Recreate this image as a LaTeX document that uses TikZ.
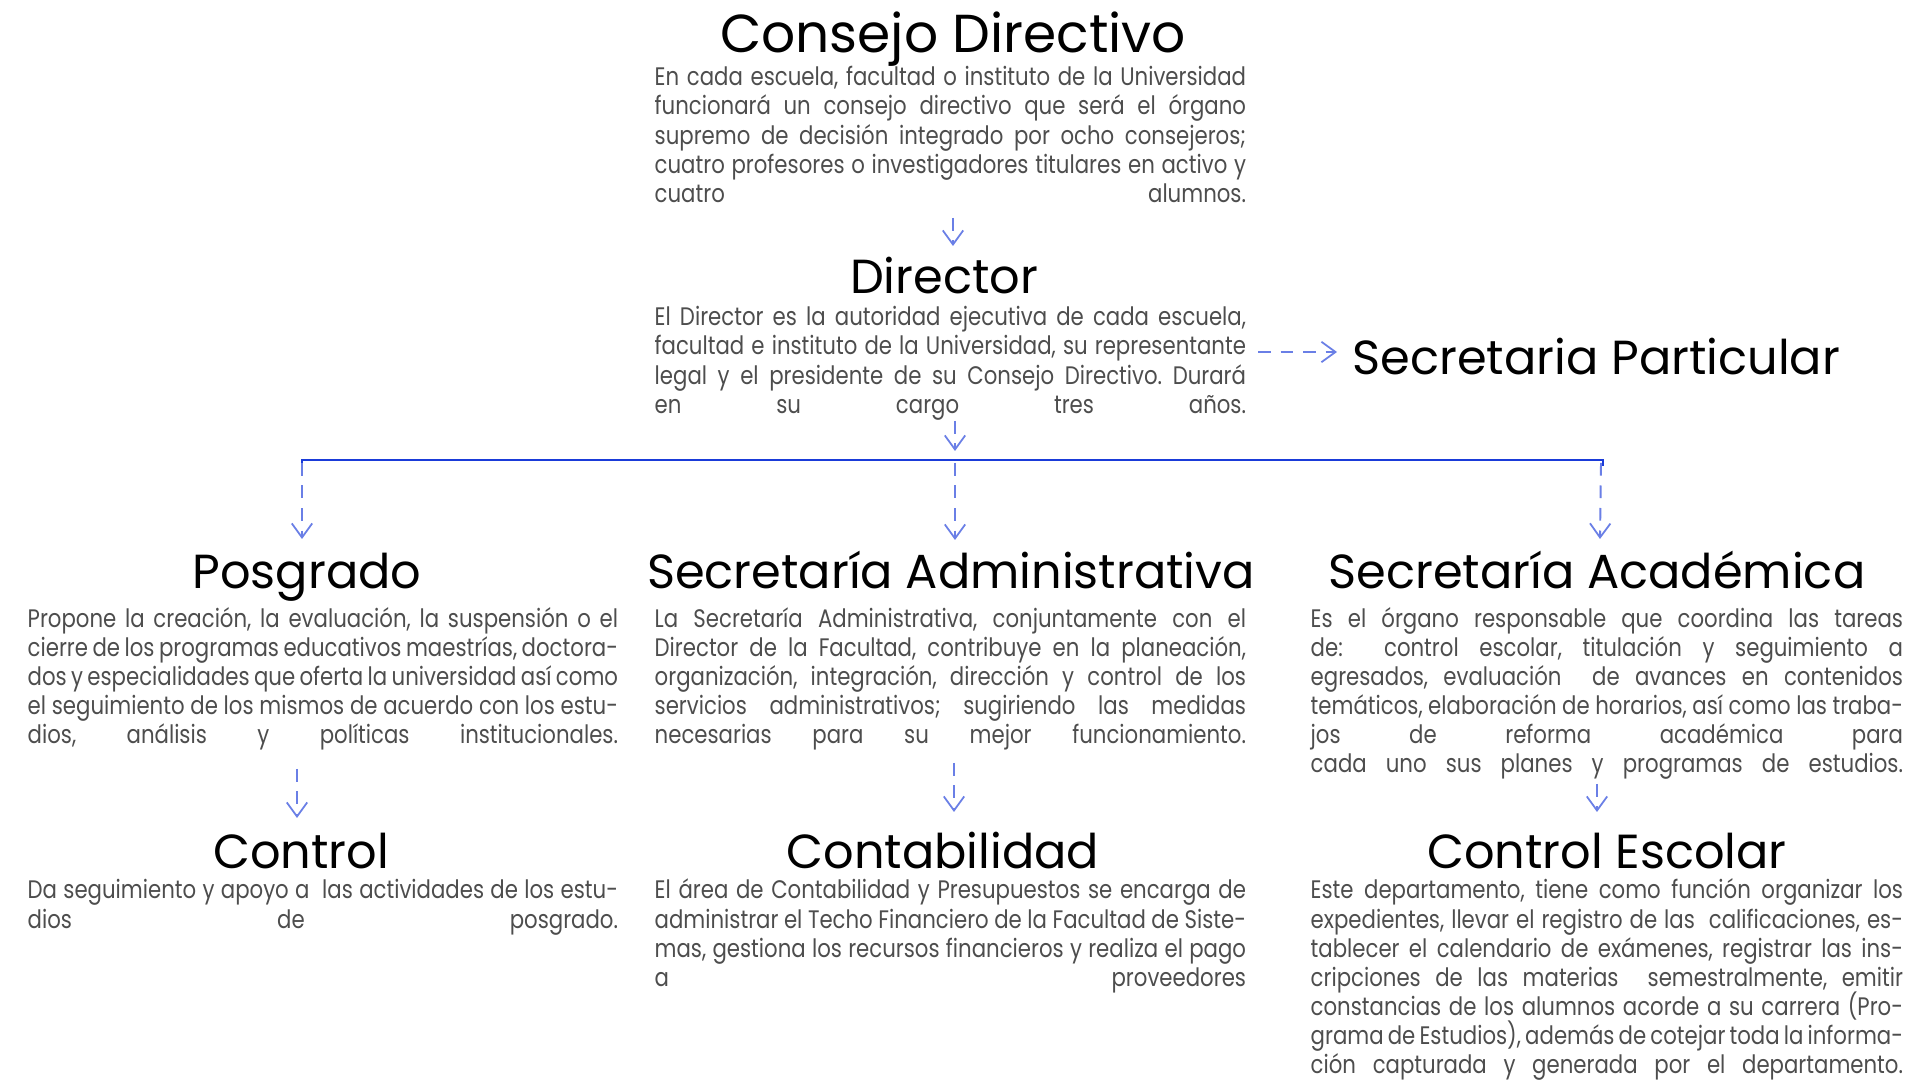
\documentclass[tikz,border=0pt]{standalone}
\usepackage{fontspec}
\setmainfont{Poppins}
\newfontfamily\titlef{Poppins}
\newfontfamily\bodyf[FakeStretch=0.84]{Poppins}
\usetikzlibrary{arrows.meta}
\definecolor{bodygray}{HTML}{4D4D4D}
\definecolor{arrowblue}{HTML}{6A7FE6}
\definecolor{busblue}{HTML}{1A3BD9}
\frenchspacing
\newcommand\jl[1]{\hbox to\hsize{#1}}
\newcommand\para[2]{\vtop{\frenchspacing\hsize=#1\baselineskip=8.25pt\lineskiplimit=-100pt\lineskip=0pt #2}}
\tikzset{
  titletext/.style={anchor=base, inner sep=0pt, text=black, font=\titlef\fontsize{13.6pt}{16pt}\selectfont},
  bigtitle/.style={titletext, font=\titlef\fontsize{15.2pt}{18pt}\selectfont},
  bodytext/.style={anchor=base west, inner sep=0pt, text=bodygray, font=\bodyf\fontsize{7.2pt}{8.25pt}\selectfont},
  arr/.style={draw=arrowblue, line width=0.55pt, dash pattern=on 3.6pt off 2.8pt, -{Straight Barb[length=4pt, width=5.8pt, line width=0.5pt]}},
  bus/.style={draw=busblue, line width=0.7pt}
}
\begin{document}
\begin{tikzpicture}[x=0.01cm, y=-0.01cm]
\fill[white] (0,0) rectangle (1920,1080);
\useasboundingbox (0,0) rectangle (1920,1080);

% Consejo Directivo
\node[bigtitle] (consejo) at (953,53) {Consejo Directivo};
\node[bodytext] (consejobody) at (654,86) {\para{5.91cm}{%
\jl{En cada escuela, facultad o instituto de la Universidad}
\jl{funcionará un consejo directivo que será el órgano}
\jl{supremo de decisión integrado por ocho consejeros;}
\jl{cuatro profesores o investigadores titulares en activo y}
\jl{cuatro alumnos.}}};

% Director
\node[titletext] (director) at (944,294) {Director};
\node[bodytext] (directorbody) at (654,326) {\para{5.91cm}{%
\jl{El Director es la autoridad ejecutiva de cada escuela,}
\jl{facultad e instituto de la Universidad, su representante}
\jl{legal y el presidente de su Consejo Directivo. Durará}
\jl{en su cargo tres años.}}};

% Secretaria Particular
\node[titletext, anchor=base west] (particular) at (1352,375) {Secretaria Particular};

% Posgrado
\node[titletext] (posgrado) at (307,589) {Posgrado};
\node[bodytext] (posgradobody) at (27,627.5) {\para{5.90cm}{%
\jl{Propone la creación, la evaluación, la suspensión o el}
\jl{cierre de los programas educativos maestrías, doctora-}
\jl{dos y especialidades que oferta la universidad así como}
\jl{el seguimiento de los mismos de acuerdo con los estu-}
\jl{dios, análisis y políticas institucionales.}}};

% Secretaria Administrativa
\node[titletext] (admin) at (951,589) {Secretaría Administrativa};
\node[bodytext] (adminbody) at (654,627.5) {\para{5.91cm}{%
\jl{La Secretaría Administrativa, conjuntamente con el}
\jl{Director de la Facultad, contribuye en la planeación,}
\jl{organización, integración, dirección y control de los}
\jl{servicios administrativos; sugiriendo las medidas}
\jl{necesarias para su mejor funcionamiento.}}};

% Secretaria Academica
\node[titletext] (academica) at (1597,589) {Secretaría Académica};
\node[bodytext] (academicabody) at (1310,627.5) {\para{5.92cm}{%
\jl{Es el órgano responsable que coordina las tareas}
\jl{de:\ \ control escolar, titulación y seguimiento a}
\jl{egresados, evaluación\ \ de avances en contenidos}
\jl{temáticos, elaboración de horarios, así como las traba-}
\jl{jos de reforma académica para}
\jl{cada uno sus planes y programas de estudios.}}};

% Control
\node[titletext] (control) at (301,869) {Control};
\node[bodytext] (controlbody) at (27,899) {\para{5.90cm}{%
\jl{Da seguimiento y apoyo a\ \ las actividades de los estu-}
\jl{dios de posgrado.}}};

% Contabilidad
\node[titletext] (contab) at (943,869) {Contabilidad};
\node[bodytext] (contabbody) at (654,899) {\para{5.91cm}{%
\jl{El área de Contabilidad y Presupuestos se encarga de}
\jl{administrar el Techo Financiero de la Facultad de Siste-}
\jl{mas, gestiona los recursos financieros y realiza el pago}
\jl{a proveedores}}};

% Control Escolar
\node[titletext] (escolar) at (1607,869) {Control Escolar};
\node[bodytext] (escolarbody) at (1310,899) {\para{5.92cm}{%
\jl{Este departamento, tiene como función organizar los}
\jl{expedientes, llevar el registro de las\ \ calificaciones, es-}
\jl{tablecer el calendario de exámenes, registrar las ins-}
\jl{cripciones de las materias\ \ semestralmente, emitir}
\jl{constancias de los alumnos acorde a su carrera (Pro-}
\jl{grama de Estudios), además de cotejar toda la informa-}
\jl{ción capturada y generada por el departamento.}}};

% connector end points
\coordinate (c1s) at (953,218);  \coordinate (c1e) at (953,246);
\coordinate (c2s) at (1258,352); \coordinate (c2e) at (1337,352);
\coordinate (c3s) at (955,421);  \coordinate (c3e) at (955,451);
\coordinate (busl) at (302,460); \coordinate (busr) at (1603,460);
\coordinate (buslt) at (302,466); \coordinate (busrt) at (1603,466);
\coordinate (c4s) at (302,463);  \coordinate (c4e) at (302,539);
\coordinate (c5s) at (955,463);  \coordinate (c5e) at (955,540);
\coordinate (c6s) at (1601,463); \coordinate (c6e) at (1600,539);
\coordinate (c7s) at (297,769);  \coordinate (c7e) at (297,818);
\coordinate (c8s) at (954,763);  \coordinate (c8e) at (954,812);
\coordinate (c9s) at (1597,784); \coordinate (c9e) at (1597,812);

\draw[arr] (c1s) -- (c1e);
\draw[arr] (c2s) -- (c2e);
\draw[arr] (c3s) -- (c3e);
\draw[bus] (buslt) -- (busl) -- (busr) -- (busrt);
\draw[arr] (c4s) -- (c4e);
\draw[arr] (c5s) -- (c5e);
\draw[arr] (c6s) -- (c6e);
\draw[arr] (c7s) -- (c7e);
\draw[arr] (c8s) -- (c8e);
\draw[arr] (c9s) -- (c9e);
\end{tikzpicture}
\end{document}
